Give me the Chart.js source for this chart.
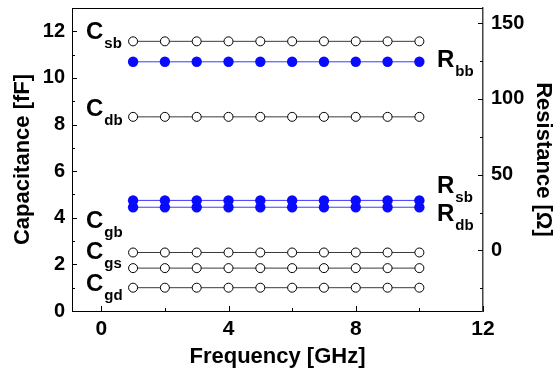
<!DOCTYPE html>
<html>
<head>
<meta charset="utf-8">
<script src="https://cdn.jsdelivr.net/npm/chart.js@4/dist/chart.umd.min.js"></script>
<style>
  html, body { margin: 0; padding: 0; background: #fff; }
  #wrap { width: 554px; height: 372px; }
</style>
</head>
<body>
<div id="wrap"><canvas id="chart" width="554" height="372"></canvas></div>
<script>
// frequency points (GHz)
const freq = [1, 2, 3, 4, 5, 6, 7, 8, 9, 10];

// capacitances (fF), left axis
const Csb = [11.57, 11.57, 11.57, 11.57, 11.57, 11.57, 11.57, 11.57, 11.57, 11.57];
const Cdb = [8.33, 8.33, 8.33, 8.33, 8.33, 8.33, 8.33, 8.33, 8.33, 8.33];
const Cgb = [2.51, 2.51, 2.51, 2.51, 2.51, 2.51, 2.51, 2.51, 2.51, 2.51];
const Cgs = [1.84, 1.84, 1.84, 1.84, 1.84, 1.84, 1.84, 1.84, 1.84, 1.84];
const Cgd = [1.0, 1.0, 1.0, 1.0, 1.0, 1.0, 1.0, 1.0, 1.0, 1.0];

// resistances (ohm), right axis
const Rbb = [124.5, 124.5, 124.5, 124.5, 124.5, 124.5, 124.5, 124.5, 124.5, 124.5];
const Rsb = [33, 33, 33, 33, 33, 33, 33, 33, 33, 33];
const Rdb = [28.5, 28.5, 28.5, 28.5, 28.5, 28.5, 28.5, 28.5, 28.5, 28.5];

const xTicks = [0, 4, 8, 12];
const yTicks = [0, 2, 4, 6, 8, 10, 12];
const y1Ticks = [0, 50, 100, 150];

const FONT = "'Liberation Sans', Arial, sans-serif";
const BLUE = "#0a0aff";

function pts(vals) {
  return freq.map((f, i) => ({ x: f, y: vals[i] }));
}

function openSet(vals) {
  return {
    data: pts(vals), yAxisID: "y",
    borderColor: "#3a3a3a", borderWidth: 1,
    pointRadius: 4.5, pointBorderWidth: 1,
    pointBackgroundColor: "#fff", pointBorderColor: "#000",
  };
}

function blueSet(vals) {
  return {
    data: pts(vals), yAxisID: "y1",
    borderColor: "#3b3bff", borderWidth: 1,
    pointRadius: 5.2, pointBorderWidth: 0,
    pointBackgroundColor: BLUE, pointBorderColor: BLUE,
  };
}

// text labels next to the curves (pixel positions)
const labels = [
  { main: "C", sub: "sb", x: 86, y: 39 },
  { main: "C", sub: "db", x: 86, y: 116 },
  { main: "C", sub: "gb", x: 86, y: 228 },
  { main: "C", sub: "gs", x: 86, y: 259 },
  { main: "C", sub: "gd", x: 86, y: 291 },
  { main: "R", sub: "bb", x: 437, y: 67 },
  { main: "R", sub: "sb", x: 437, y: 193 },
  { main: "R", sub: "db", x: 437, y: 221 },
];

const framePlugin = {
  id: "frame",
  afterDraw(chart) {
    const { ctx, chartArea: a, scales } = chart;
    ctx.save();
    ctx.strokeStyle = "#000";
    ctx.lineWidth = 1;
    // top border
    ctx.beginPath();
    ctx.moveTo(a.left, a.top + 0.5);
    ctx.lineTo(a.right, a.top + 0.5);
    ctx.stroke();

    // inward tick marks
    ctx.beginPath();
    for (let v = 0; v <= 12; v += 2) {
      const px = Math.round(scales.x.getPixelForValue(v)) + 0.5;
      const len = v % 4 === 0 ? 5 : 3;
      ctx.moveTo(px, a.bottom);
      ctx.lineTo(px, a.bottom - len);
    }
    for (let v = 0; v <= 13; v += 1) {
      const py = Math.round(scales.y.getPixelForValue(v)) + 0.5;
      const len = v % 2 === 0 ? 5 : 3;
      ctx.moveTo(a.left, py);
      ctx.lineTo(a.left + len, py);
    }
    for (let v = -25; v <= 150; v += 25) {
      const py = Math.round(scales.y1.getPixelForValue(v)) + 0.5;
      const len = v % 50 === 0 ? 5 : 3;
      ctx.moveTo(a.right, py);
      ctx.lineTo(a.right - len, py);
    }
    ctx.stroke();

    // curve labels with subscripts
    ctx.fillStyle = "#000";
    ctx.textBaseline = "alphabetic";
    ctx.textAlign = "left";
    labels.forEach((l) => {
      ctx.font = "bold 24px " + FONT;
      ctx.fillText(l.main, l.x, l.y);
      const w = ctx.measureText(l.main).width;
      ctx.font = "bold 15px " + FONT;
      ctx.fillText(l.sub, l.x + w + 1, l.y + 9);
    });
    ctx.restore();
  },
};

function noPad(s) {
  s.paddingTop = 0;
  s.paddingBottom = 0;
  s.paddingLeft = 0;
  s.paddingRight = 0;
}

const ctx = document.getElementById("chart").getContext("2d");

new Chart(ctx, {
  type: "line",
  data: {
    datasets: [
      openSet(Csb), openSet(Cdb), openSet(Cgb), openSet(Cgs), openSet(Cgd),
      blueSet(Rbb), blueSet(Rsb), blueSet(Rdb),
    ],
  },
  options: {
    responsive: false,
    animation: false,
    layout: { padding: { top: 8, left: 0, right: 0, bottom: 0 } },
    plugins: { legend: { display: false }, tooltip: { enabled: false } },
    scales: {
      x: {
        type: "linear", min: -0.92, max: 12,
        afterBuildTicks: (s) => { s.ticks = xTicks.map((v) => ({ value: v })); },
        afterFit: (s) => { s.height = 61; noPad(s); },
        grid: { display: false, drawTicks: false },
        border: { display: true, color: "#000", width: 1 },
        ticks: { color: "#000", padding: 6, font: { family: FONT, size: 21, weight: "bold" } },
        title: {
          display: true, text: "Frequency [GHz]", color: "#000",
          font: { family: FONT, size: 22, weight: "bold", lineHeight: 1 },
          padding: { top: 0, bottom: 4 },
        },
      },
      y: {
        type: "linear", position: "left", min: 0, max: 13,
        afterBuildTicks: (s) => { s.ticks = yTicks.map((v) => ({ value: v })); },
        afterFit: (s) => { s.width = 72; noPad(s); },
        grid: { display: false, drawTicks: false },
        border: { display: true, color: "#000", width: 1 },
        ticks: { color: "#000", padding: 7, font: { family: FONT, size: 20, weight: "bold" } },
        title: {
          display: true, text: "Capacitance [fF]", color: "#000",
          font: { family: FONT, size: 22, weight: "bold", lineHeight: 1 },
          padding: { top: 12, bottom: 0 },
        },
      },
      y1: {
        type: "linear", position: "right", min: -40, max: 160,
        afterBuildTicks: (s) => { s.ticks = y1Ticks.map((v) => ({ value: v })); },
        afterFit: (s) => { s.width = 71; noPad(s); },
        grid: { display: false, drawTicks: false },
        border: { display: true, color: "#444", width: 1.5 },
        ticks: { color: "#000", padding: 8, font: { family: FONT, size: 20, weight: "bold" } },
        title: {
          display: true, text: "Resistance [Ω]", color: "#000",
          font: { family: FONT, size: 22, weight: "bold", lineHeight: 1 },
          padding: { top: 0, bottom: 0 },
        },
      },
    },
  },
  plugins: [framePlugin],
});
</script>
</body>
</html>
